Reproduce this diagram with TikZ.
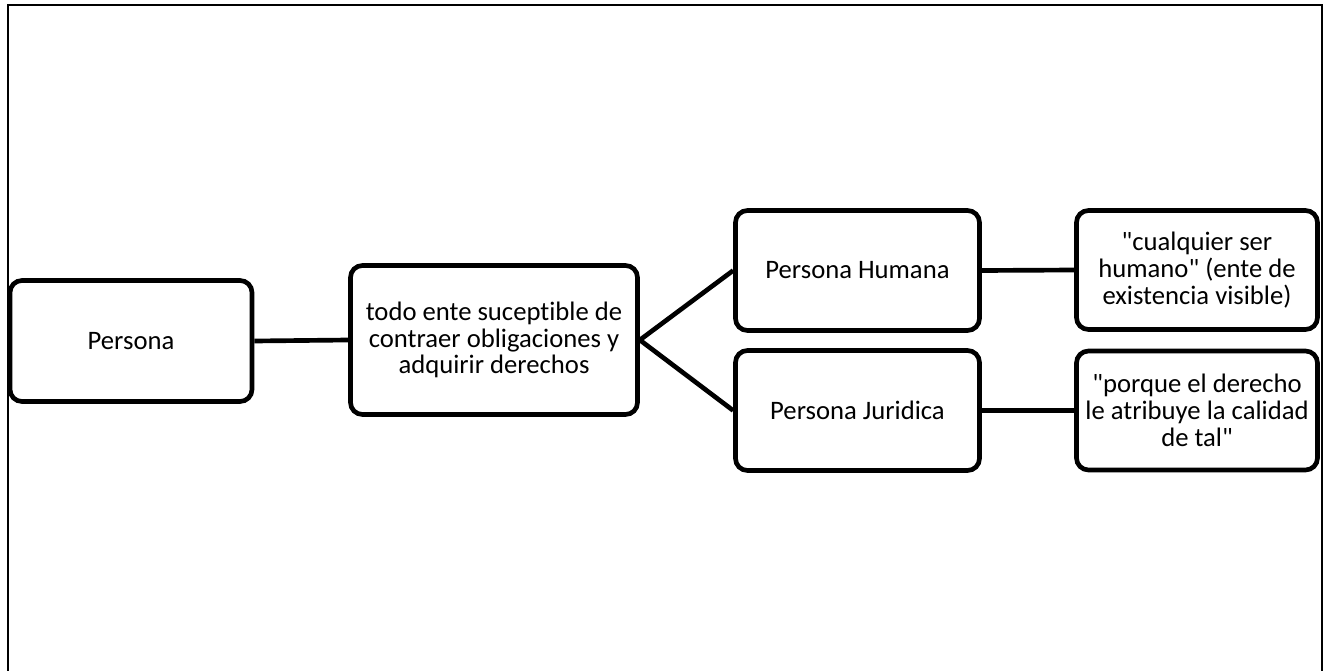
\documentclass[tikz,border=0pt]{standalone}
\usepackage{fontspec}
\setmainfont{Carlito}[Ligatures={NoCommon}]
\newcommand{\qq}{\textquotedbl}
\begin{document}
\begin{tikzpicture}[x=0.75pt,y=-0.75pt,
  box/.style={draw=black,line width=3.5pt,rounded corners=9pt,fill=white,
    align=center,inner sep=0pt,font=\fontsize{20}{20}\selectfont},
  link/.style={draw=black,line width=3.5pt}]
\useasboundingbox (0,0) rectangle (1328,671);
\draw[line width=1.5pt] (8.3,671) -- (8.3,5) -- (1322,5) -- (1322,671);
\node[box,minimum width=181.5pt,minimum height=90.75pt] (persona) at (131,341) {Persona};
\node[box,minimum width=215.25pt,minimum height=111.75pt] (def) at (494,340) {todo ente suceptible de\\contraer obligaciones y\\adquirir derechos};
\node[box,minimum width=183pt,minimum height=90pt] (hum) at (857.5,270.5) {Persona Humana};
\node[box,minimum width=183pt,minimum height=90pt] (jur) at (857.5,410.5) {Persona Juridica};
\node[box,minimum width=180.75pt,minimum height=89.25pt] (humd) at (1197,270) {\qq cualquier ser\\humano\qq{} (ente de\\existencia visible)};
\node[box,minimum width=180.75pt,minimum height=89.25pt] (jurd) at (1197,410.5) {\qq porque el derecho\\le atribuye la calidad\\de tal\qq};
\draw[link] (persona.east) -- (def.west);
\draw[link] (def.east) -- (hum.west);
\draw[link] (def.east) -- (jur.west);
\draw[link] (hum.east) -- (humd.west);
\draw[link] (jur.east) -- (jurd.west);
\end{tikzpicture}
\end{document}
